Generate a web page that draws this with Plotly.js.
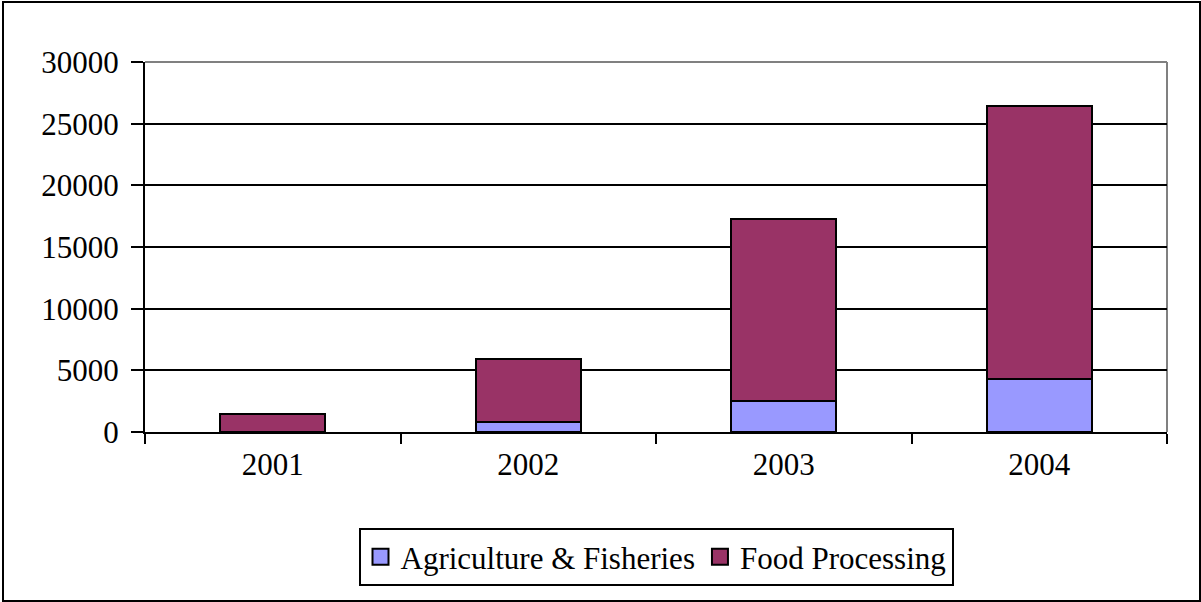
<!DOCTYPE html>
<html>
<head>
<meta charset="utf-8">
<script src="https://cdn.plot.ly/plotly-3.0.1.min.js"></script>
<style>
  html, body { margin: 0; padding: 0; background: #fff; }
  #wrap { position: relative; width: 1201px; height: 602px; }
  #chart { width: 1201px; height: 602px; }
  #frame { position: absolute; left: 2px; top: 1px; width: 1195px; height: 597px; border: 2px solid #000; pointer-events: none; }
</style>
</head>
<body>
<div id="wrap">
  <div id="chart"></div>
  <div id="frame"></div>
</div>
<script>
const years = ['2001', '2002', '2003', '2004'];
const agriculture = [30, 830, 2540, 4320];
const foodProcessing = [1430, 5090, 14730, 22110];
const yTicks = [0, 5000, 10000, 15000, 20000, 25000, 30000];
const seriesNames = ['Agriculture & Fisheries', 'Food Processing'];
const seriesColors = ['#9999FF', '#993366'];

const font = 'Liberation Serif';

const traces = [
  {
    type: 'bar', name: seriesNames[0], x: years, y: agriculture, showlegend: false,
    marker: { color: seriesColors[0], line: { color: '#000', width: 2 } }
  },
  {
    type: 'bar', name: seriesNames[1], x: years, y: foodProcessing, showlegend: false,
    marker: { color: seriesColors[1], line: { color: '#000', width: 2 } }
  }
];
// legend-only entries with larger square swatches
seriesNames.forEach(function (nm, i) {
  traces.push({
    type: 'scatter', mode: 'markers', name: nm, x: [null], y: [null], showlegend: true,
    marker: { symbol: 'square', size: 19, color: seriesColors[i], line: { color: '#000', width: 2 } }
  });
});

const layout = {
  width: 1201, height: 602,
  margin: { l: 145, r: 34, t: 62, b: 170 },
  barmode: 'stack',
  bargap: 0.59,
  paper_bgcolor: '#fff', plot_bgcolor: '#fff',
  font: { family: font, size: 31, color: '#000' },
  xaxis: {
    type: 'category', categoryorder: 'array', categoryarray: years,
    showline: true, linecolor: '#000', linewidth: 2,
    ticks: 'outside', tickson: 'boundaries', ticklen: 10, tickwidth: 2, tickcolor: '#000',
    showgrid: false, zeroline: false,
    ticklabelstandoff: 4,
    tickfont: { family: font, size: 31, color: '#000' }
  },
  yaxis: {
    range: [0, 30000], tickvals: yTicks, ticktext: yTicks.map(String),
    showline: true, linecolor: '#000', linewidth: 2,
    ticks: 'outside', ticklen: 12, tickwidth: 2, tickcolor: '#000',
    showgrid: true, gridcolor: '#000', gridwidth: 2,
    zeroline: false,
    ticklabelstandoff: 6,
    tickfont: { family: font, size: 31, color: '#000' }
  },
  showlegend: true,
  legend: {
    orientation: 'h', x: 0.5, xanchor: 'center', y: -0.26, yanchor: 'top',
    bordercolor: '#000', borderwidth: 2, bgcolor: '#fff',
    font: { family: font, size: 31, color: '#000' },
    traceorder: 'normal', itemwidth: 30, itemsizing: 'trace'
  },
  shapes: [
    { type: 'line', xref: 'paper', yref: 'paper', x0: 0, x1: 1, y0: 1, y1: 1, line: { color: '#808080', width: 2 }, layer: 'above' },
    { type: 'line', xref: 'paper', yref: 'paper', x0: 1, x1: 1, y0: 0, y1: 1, line: { color: '#808080', width: 2 }, layer: 'below' }
  ]
};

Plotly.newPlot('chart', traces, layout, { displayModeBar: false, staticPlot: true });
</script>
</body>
</html>
